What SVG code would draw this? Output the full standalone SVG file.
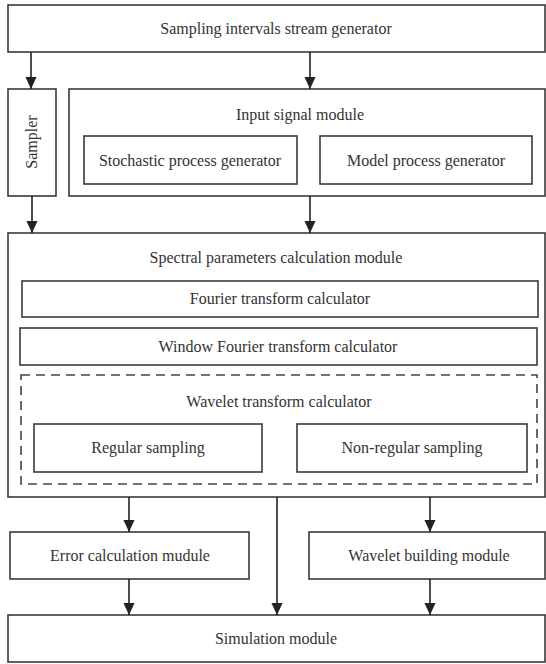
<svg xmlns="http://www.w3.org/2000/svg" width="546" height="664" viewBox="0 0 546 664">
<defs>
<marker id="ah" markerWidth="12" markerHeight="14" refX="13" refY="6" orient="auto" markerUnits="userSpaceOnUse" viewBox="0 0 13 12">
<path d="M0,0 L13,6 L0,12 Z" fill="#222"/>
</marker>
<style>
.b{fill:#fff;stroke:#3a3a3a;stroke-width:1.6}
.d{fill:none;stroke:#444;stroke-width:1.6;stroke-dasharray:9 6}
.t{font-family:'Liberation Serif','DejaVu Serif',serif;font-size:16px;fill:#333;text-anchor:middle}
.c{fill:none;stroke:#222;stroke-width:1.6;marker-end:url(#ah)}
</style>
</defs>
<rect width="546" height="664" fill="#fff"/>
<g font-family="Liberation Serif, DejaVu Serif, serif">
<g id="stream-gen"><rect class="b" x="8" y="5" width="537" height="47"/><text class="t" x="276" y="34">Sampling intervals stream generator</text></g>
<g id="sampler"><rect class="b" x="8" y="89" width="48" height="107"/><text class="t" transform="translate(37,142) rotate(-90)">Sampler</text></g>
<g id="input-module"><rect class="b" x="69" y="89" width="476" height="107"/><text class="t" x="300" y="120">Input signal module</text>
<g id="stochastic"><rect class="b" x="84" y="136" width="213" height="48"/><text class="t" x="190" y="166">Stochastic process generator</text></g>
<g id="model"><rect class="b" x="320" y="136" width="212" height="48"/><text class="t" x="426" y="166">Model process generator</text></g>
</g>
<g id="spectral-module"><rect class="b" x="8" y="233" width="537" height="264"/><text class="t" x="276" y="263">Spectral parameters calculation module</text>
<g id="fourier"><rect class="b" x="22" y="281" width="516" height="36"/><text class="t" x="280" y="304">Fourier transform calculator</text></g>
<g id="window-fourier"><rect class="b" x="20" y="328" width="517" height="37"/><text class="t" x="278" y="352">Window Fourier transform calculator</text></g>
<g id="wavelet-transform"><rect class="d" x="21" y="375" width="516" height="109"/><text class="t" x="279" y="407">Wavelet transform calculator</text>
<g id="regular"><rect class="b" x="34" y="424" width="228" height="48"/><text class="t" x="148" y="453">Regular sampling</text></g>
<g id="non-regular"><rect class="b" x="297" y="424" width="230" height="48"/><text class="t" x="412" y="453">Non-regular sampling</text></g>
</g>
</g>
<g id="error-calc"><rect class="b" x="10" y="532" width="239" height="47"/><text class="t" x="130" y="561">Error calculation mudule</text></g>
<g id="wavelet-building"><rect class="b" x="309" y="532" width="236" height="47"/><text class="t" x="429" y="561">Wavelet building module</text></g>
<g id="simulation"><rect class="b" x="8" y="615" width="537" height="47"/><text class="t" x="276" y="644">Simulation module</text></g>
</g>
<g id="connectors">
<path class="c" d="M31,52 V89"/>
<path class="c" d="M310,52 V89"/>
<path class="c" d="M32,196 V233"/>
<path class="c" d="M310,196 V233"/>
<path class="c" d="M129,497 V532"/>
<path class="c" d="M430,497 V532"/>
<path class="c" d="M129,579 V615"/>
<path class="c" d="M277,497 V615"/>
<path class="c" d="M430,579 V615"/>
</g>
</svg>
